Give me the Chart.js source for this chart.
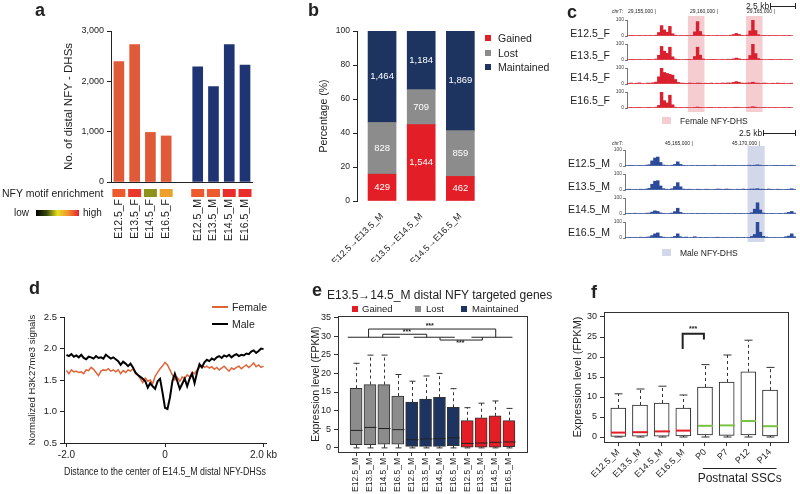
<!DOCTYPE html>
<html>
<head>
<meta charset="utf-8">
<script src="https://cdn.jsdelivr.net/npm/chart.js@4.4.1/dist/chart.umd.min.js"></script>
<style>
body { margin: 0; background: #fff; }
#fig { position: relative; width: 800px; height: 494px; overflow: hidden; font-family: "Liberation Sans", Arial, sans-serif; color: #222; }
#fig canvas { position: absolute; }
.t { position: absolute; white-space: nowrap; line-height: 1; transform: translateY(-50%); }
.r { transform: translate(-100%, -50%); }
.b { font-weight: bold; }
.sw { position: absolute; }
</style>
</head>
<body>
<div id="fig"></div>
<script>
// ---- panel a: distal NFY-DHS counts
var femaleStages = ['E12.5_F', 'E13.5_F', 'E14.5_F', 'E16.5_F'];
var maleStages = ['E12.5_M', 'E13.5_M', 'E14.5_M', 'E16.5_M'];
var femaleDhs = [2390, 2730, 985, 915];
var maleDhs = [2290, 1895, 2730, 2325];
var femaleMotif = [0.87, 0.95, 0.37, 0.7];
var maleMotif = [0.87, 0.87, 0.97, 0.97];

// ---- panel b: gained / lost / maintained DHS numbers
var transitions = ['E12.5\u2192E13.5_M', 'E13.5\u2192E14.5_M', 'E14.5\u2192E16.5_M'];
var gainedN = [429, 1544, 462];
var lostN = [828, 709, 859];
var maintainedN = [1464, 1184, 1869];

// ---- panel c: DNase tracks (binned signal, 0-100)
var trackF = {
  'E12.5_F': [3,2,4,3,2,3,4,3,2,3,5, 22,65,38,24,60,14,5, 3,4,3,2,3,4, 26,90,28,6, 3,4,3,3,2,3,4,3,3,5, 9,16,10,4, 3,6, 32,100,34,8, 3,4,3,2,3,4,3,3,4,3,2,3],
  'E13.5_F': [3,4,2,3,4,3,3,2,4,3,6, 30,85,55,42,80,20,6, 4,3,3,4,2,3, 22,80,30,7, 3,3,4,2,3,3,4,3,5,4, 7,12,8,4, 4,5, 28,100,40,9, 4,3,3,4,2,3,3,4,3,3,4,3],
  'E14.5_F': [4,6,3,5,7,4,3,6,5,8,12, 45,100,72,66,60,55,28, 10,6,5,4,6,5, 4,6,5,4, 5,4,6,3,5,4,6,5,7,6, 10,15,11,6, 5,6, 7,11,6,5, 4,6,5,3,5,4,6,4,5,3,4,5],
  'E16.5_F': [3,2,3,4,2,3,3,2,4,3,5, 16,100,46,32,80,20,5, 3,2,3,4,3,3, 4,6,4,3, 3,2,4,3,3,2,3,4,3,3, 4,5,4,3, 3,4, 5,8,5,3, 3,2,3,4,3,2,3,3,4,3,2,3]
};
var trackM = {
  'E12.5_M': [3,4,2,3,3,4,3,5,8, 32,50,56,22, 6,4,3,5, 10,26,10, 4,3,3,4,3,2,3,4,3,3,4,5,3,3,4,3,2,3,4,3,3,4,3,5,4, 5,7,5, 3,4,3,3,4,2,3,4,3, 4,5,3],
  'E13.5_M': [4,5,3,4,3,5,4,6,10, 36,55,58,25, 8,5,4,8, 22,46,20, 6,4,5,4,3,5,4,3,5,4,3,4,6,5,4,6,5,4,3,5,4,6,4,5,6, 6,8,5, 5,4,6,4,3,5,4,3,4, 5,8,4],
  'E14.5_M': [3,4,3,5,3,4,3,5,6, 12,20,16,7, 4,3,4,6, 15,36,10, 4,3,3,4,3,2,3,4,3,3,4,3,3,4,3,3,4,3,2,3,4,3,3,4,8, 30,70,25, 6,4,3,4,3,3,4,3,6, 10,16,6],
  'E16.5_M': [3,4,3,4,3,5,4,5,7, 15,26,32,9, 5,4,3,5, 10,26,8, 4,6,3,4,8,3,4,3,4,3,3,4,5,3,4,3,3,4,3,2,3,4,3,4,10, 22,100,36, 10,6,4,3,4,3,3,4,8, 12,26,8]
};
var femaleDhsBins = [[22, 27], [43, 48]];
var maleDhsBins = [[43, 48]];

// ---- panel d: H3K27me3 profile, -2..2 kb in 0.05 kb steps
var maleSignal = [1.90,1.88,1.91,1.87,1.89,1.86,1.90,1.85,1.83,1.87,1.86,1.84,1.88,1.85,1.86,1.84,1.90,1.87,1.84,1.86,
  1.83,1.80,1.74,1.79,1.76,1.72,1.76,1.70,1.62,1.58,1.55,1.52,1.48,1.38,1.45,1.40,1.36,1.48,1.52,1.30,
  1.06,1.04,1.22,1.48,1.60,1.48,1.36,1.44,1.52,1.40,1.52,1.60,1.45,1.62,1.75,1.70,1.78,1.82,1.80,1.84,
  1.82,1.86,1.88,1.85,1.89,1.87,1.90,1.86,1.89,1.91,1.88,1.90,1.89,1.92,1.91,1.95,1.97,1.93,1.96,2.00,1.99];
var femaleSignal = [1.65,1.60,1.66,1.63,1.64,1.62,1.63,1.60,1.66,1.65,1.70,1.67,1.62,1.57,1.64,1.66,1.65,1.68,1.64,1.66,
  1.63,1.66,1.60,1.65,1.62,1.66,1.64,1.68,1.60,1.58,1.52,1.46,1.53,1.48,1.50,1.44,1.56,1.62,1.68,1.72,
  1.78,1.74,1.66,1.58,1.50,1.54,1.48,1.55,1.52,1.58,1.55,1.62,1.60,1.66,1.70,1.73,1.70,1.72,1.69,1.71,
  1.67,1.70,1.66,1.69,1.72,1.68,1.64,1.69,1.67,1.70,1.72,1.68,1.71,1.74,1.70,1.73,1.77,1.71,1.74,1.70,1.72];

// ---- panel e: expression of NFY targeted genes (box stats)
var eStages = ['E12.5_M','E13.5_M','E14.5_M','E16.5_M','E12.5_M','E13.5_M','E14.5_M','E16.5_M','E12.5_M','E13.5_M','E14.5_M','E16.5_M'];
var eGroup = ['Lost','Lost','Lost','Lost','Maintained','Maintained','Maintained','Maintained','Gained','Gained','Gained','Gained'];
var eMin = [0,0,0,0, 0,0,0,0, 0,0,0,0];
var eQ1 = [0.9,0.9,1.0,1.0, 0.4,0.4,0.4,0.6, 0.2,0.2,0.2,0.3];
var eMedian = [4.7,5.5,5.2,4.9, 2.2,2.4,2.5,2.7, 1.2,1.3,1.5,1.6];
var eQ3 = [16.0,17.0,17.0,13.9, 12.3,13.1,13.6,10.9, 7.3,8.1,8.6,7.3];
var eMax = [22.7,24.9,24.9,19.7, 17.9,19.3,20.0,15.9, 10.8,12.0,12.6,10.6];

// ---- panel f: expression through postnatal stages
var fStages = ['E12.5_M','E13.5_M','E14.5_M','E16.5_M','P0','P7','P12','P14'];
var fMin = [0,0,0,0,0,0,0,0];
var fQ1 = [0.15,0.2,0.2,0.3,0.5,0.4,0.5,0.3];
var fMedian = [1.1,1.2,1.4,1.6,2.8,2.9,4.0,2.7];
var fQ3 = [7.25,8.0,8.5,7.25,12.5,13.75,16.3,11.7];
var fMax = [10.8,12.0,12.7,10.5,18.1,20.5,24.2,17.4];

var groupColor = { Gained: '#e31e26', Lost: '#8c8c8c', Maintained: '#1d3461' };
var FONT = '"Liberation Sans", Arial, sans-serif';

Chart.defaults.font.family = FONT;
Chart.defaults.color = '#222';
Chart.defaults.animation = false;
Chart.defaults.responsive = false;
Chart.defaults.plugins.legend.display = false;
Chart.defaults.plugins.tooltip.enabled = false;

var fig = document.getElementById('fig');

function canvasAt(left, top, w, h) {
  var c = document.createElement('canvas');
  c.width = w; c.height = h;
  c.style.left = left + 'px'; c.style.top = top + 'px';
  c.style.width = w + 'px'; c.style.height = h + 'px';
  fig.appendChild(c);
  return c.getContext('2d');
}
function text(s, x, y, size, cls, css) {
  var d = document.createElement('div');
  d.className = 't' + (cls ? ' ' + cls : '');
  d.textContent = s;
  d.style.left = x + 'px'; d.style.top = y + 'px'; d.style.fontSize = size + 'px';
  if (css) d.style.cssText += css;
  fig.appendChild(d);
}
function swatch(x, y, w, h, bg) {
  var d = document.createElement('div');
  d.className = 'sw';
  d.style.cssText = 'left:' + x + 'px;top:' + y + 'px;width:' + w + 'px;height:' + h + 'px;background:' + bg;
  fig.appendChild(d);
}
function fixW(w) { return function (s) { s.width = w; }; }
function fixH(h) { return function (s) { s.height = h; }; }
function indexTicks(n) { return function (s) { s.ticks = []; for (var i = 0; i < n; i++) s.ticks.push({ value: i }); }; }

function enrichColor(s) {
  var stops = [[0, [0, 0, 0]], [0.25, [58, 74, 16]], [0.5, [232, 224, 32]], [0.75, [240, 144, 48]], [1, [232, 32, 42]]];
  for (var k = 1; k < stops.length; k++) {
    if (s <= stops[k][0]) {
      var a = stops[k - 1], b = stops[k], t = (s - a[0]) / (b[0] - a[0]);
      return 'rgb(' + a[1].map(function (c, j) { return Math.round(c + (b[1][j] - c) * t); }).join(',') + ')';
    }
  }
  return 'rgb(232,32,42)';
}

// ================= a =================
var aLabels = femaleStages.concat([''], maleStages);
var aMotif = femaleMotif.concat([null], maleMotif);
var motifPlugin = {
  id: 'motif',
  afterDraw: function (chart) {
    var ctx = chart.ctx, x = chart.scales.x, b = chart.chartArea.bottom;
    aMotif.forEach(function (s, i) {
      if (s == null) return;
      ctx.fillStyle = enrichColor(s);
      ctx.fillRect(x.getPixelForValue(i) - 6.5, b + 7, 13, 8);
    });
  }
};
new Chart(canvasAt(0, 0, 275, 250), {
  type: 'bar',
  data: {
    labels: aLabels,
    datasets: [
      { data: femaleDhs.concat([null, null, null, null, null]), backgroundColor: '#e05a38' },
      { data: [null, null, null, null, null].concat(maleDhs), backgroundColor: '#1f3473' }
    ]
  },
  options: {
    layout: { padding: { top: 31, right: 7 } },
    datasets: { bar: { grouped: false, barThickness: 10 } },
    scales: {
      x: {
        grid: { drawOnChartArea: false, drawTicks: false },
        border: { color: '#222' },
        ticks: { minRotation: 90, maxRotation: 90, autoSkip: false, padding: 17, font: { size: 10.5 } },
        afterFit: fixH(68)
      },
      y: {
        min: 0, max: 3000,
        ticks: { stepSize: 1000, font: { size: 9 }, padding: 3, callback: function (v) { return v.toLocaleString('en-US'); } },
        grid: { drawOnChartArea: false, tickLength: 4, color: '#222' },
        border: { color: '#222' },
        title: { display: true, text: 'No. of distal NFY - DHSs', font: { size: 11.5 }, padding: { top: 62 } },
        afterFit: fixW(111)
      }
    }
  },
  plugins: [motifPlugin]
});
text('a', 35, 10, 18, 'b');
text('NFY motif enrichment', 2, 193, 10.5);
text('low', 14, 213, 10);
swatch(36, 210, 43, 6, 'linear-gradient(to right,#000,#3a4a10 25%,#e8e020 50%,#f09030 75%,#e8202a)');
text('high', 83, 213, 10);

// ================= b =================
var bTotals = gainedN.map(function (g, i) { return g + lostN[i] + maintainedN[i]; });
function pct(arr) { return arr.map(function (v, i) { return { x: i, y: 100 * v / bTotals[i] }; }); }
var countLabels = {
  id: 'counts',
  afterDatasetsDraw: function (chart) {
    var ctx = chart.ctx;
    ctx.save();
    ctx.fillStyle = '#fff';
    ctx.font = '9.5px ' + FONT;
    ctx.textAlign = 'center';
    ctx.textBaseline = 'middle';
    chart.data.datasets.forEach(function (ds, d) {
      chart.getDatasetMeta(d).data.forEach(function (el, i) {
        ctx.fillText(ds.counts[i].toLocaleString('en-US'), el.x, (el.y + el.base) / 2);
      });
    });
    ctx.restore();
  }
};
new Chart(canvasAt(290, 0, 200, 262), {
  type: 'bar',
  data: {
    datasets: [
      { label: 'Gained', data: pct(gainedN), counts: gainedN, backgroundColor: groupColor.Gained },
      { label: 'Lost', data: pct(lostN), counts: lostN, backgroundColor: groupColor.Lost },
      { label: 'Maintained', data: pct(maintainedN), counts: maintainedN, backgroundColor: groupColor.Maintained }
    ]
  },
  options: {
    layout: { padding: { top: 31, right: 14 } },
    datasets: { bar: { barThickness: 28 } },
    scales: {
      x: {
        type: 'linear', min: -0.64, max: 2.4, stacked: true, offset: false,
        grid: { display: false }, border: { display: false },
        afterBuildTicks: indexTicks(transitions.length),
        ticks: { minRotation: 45, maxRotation: 45, autoSkip: false, padding: 2, font: { size: 9 },
          callback: function (v) { return transitions[v]; } },
        afterFit: fixH(61)
      },
      y: {
        min: 0, max: 100, stacked: true,
        ticks: { stepSize: 20, font: { size: 8.5 }, padding: 3 },
        grid: { drawOnChartArea: false, tickLength: 4, color: '#222' },
        border: { color: '#222' },
        title: { display: true, text: 'Percentage (%)', font: { size: 10.5 }, padding: { top: 28 } },
        afterFit: fixW(67)
      }
    }
  },
  plugins: [countLabels]
});
text('b', 308, 10, 18, 'b');
[['Gained', gainedN], ['Lost', lostN], ['Maintained', maintainedN]].forEach(function (g, k) {
  swatch(485, 35 + k * 14.5, 6, 6, groupColor[g[0]]);
  text(g[0], 498, 38 + k * 14.5, 10.5);
});

// ================= c =================
function track(left, top, padTop, width, bins, color, dhsBins, dhsColor) {
  new Chart(canvasAt(left, top, width, 24), {
    type: 'bar',
    data: {
      labels: bins.map(function (v, i) { return i; }),
      datasets: [{ data: bins, backgroundColor: color, barPercentage: 1, categoryPercentage: 1 }]
    },
    options: {
      layout: { padding: { top: padTop, right: 2 } },
      scales: {
        x: { display: false },
        y: {
          min: 0, max: 100,
          afterBuildTicks: function (s) { s.ticks = [{ value: 0 }, { value: 100 }]; },
          ticks: { font: { size: 5 }, padding: 1, color: '#444' },
          grid: { drawOnChartArea: false, tickLength: 2, color: '#777' },
          border: { color: '#777' },
          afterFit: fixW(17)
        }
      }
    },
    plugins: [{
      id: 'dhs',
      beforeDatasetsDraw: function (chart) {
        var ctx = chart.ctx, x = chart.scales.x, w = x.width / bins.length;
        ctx.fillStyle = dhsColor;
        dhsBins.forEach(function (r) {
          var x0 = x.getPixelForValue(r[0]) - w / 2, x1 = x.getPixelForValue(r[1]) + w / 2;
          ctx.fillRect(x0, 0, x1 - x0, chart.height);
        });
      }
    }]
  });
}
var fLabelY = [33, 55, 77, 100];
Object.keys(trackF).forEach(function (k, i) {
  track(610, 16 + 24 * i, 3, 185, trackF[k], '#d9202e', femaleDhsBins, '#f5cdd0');
  text(k, 610, fLabelY[i], 10.5, 'r');
});
var mLabelY = [163, 186, 209, 232];
Object.keys(trackM).forEach(function (k, i) {
  track(608, 146 + 24 * i, 4, 190, trackM[k], '#2b4a9a', maleDhsBins, '#d2d8ea');
  text(k, 610, mLabelY[i], 10.5, 'r');
});
var scaleBarBg = 'linear-gradient(#222,#222) center/100% 1px no-repeat;border-left:1px solid #222;border-right:1px solid #222';
text('c', 567, 12, 18, 'b');
text('chr7:', 612, 11, 5);
text('29,155,000 |', 628, 11, 5);
text('29,160,000 |', 690, 11, 5);
text('29,165,000 |', 747, 11, 5);
text('2.5 kb', 746, 6, 8.5);
swatch(770, 3, 24, 6, scaleBarBg);
swatch(662, 117, 9, 7, '#f5cdd0');
text('Female NFY-DHS', 680, 121, 8.5);
text('2.5 kb', 739, 133, 8.5);
swatch(763, 130, 31, 6, scaleBarBg);
text('chr7:', 612, 143, 5);
text('45,165,000 |', 665, 143, 5);
text('45,170,000 |', 732, 143, 5);
swatch(662, 249, 9, 7, '#d2d8ea');
text('Male NFY-DHS', 680, 253, 8.5);

// ================= d =================
var distanceKb = maleSignal.map(function (v, i) { return -2 + i * 0.05; });
function xy(vals) { return vals.map(function (v, i) { return { x: distanceKb[i], y: v }; }); }
new Chart(canvasAt(0, 290, 300, 204), {
  type: 'line',
  data: {
    datasets: [
      { label: 'Male', data: xy(maleSignal), borderColor: '#000', borderWidth: 2, pointRadius: 0 },
      { label: 'Female', data: xy(femaleSignal), borderColor: '#e0643a', borderWidth: 1.5, pointRadius: 0 }
    ]
  },
  options: {
    layout: { padding: { top: 27, right: 34 } },
    scales: {
      x: {
        type: 'linear', min: -2.05, max: 2.05,
        afterBuildTicks: function (s) { s.ticks = [{ value: -2 }, { value: 0 }, { value: 2 }]; },
        ticks: { font: { size: 10 }, padding: 2, callback: function (v) { return v === 0 ? '0' : (v > 0 ? v.toFixed(1) + ' kb' : v.toFixed(1)); } },
        grid: { drawOnChartArea: false, tickLength: 4, color: '#222' },
        border: { color: '#222' },
        title: { display: true, text: 'Distance to the center of E14.5_M distal NFY-DHSs', font: { size: 10.5 }, padding: { bottom: 16 } },
        afterFit: fixH(51)
      },
      y: {
        min: 0.5, max: 2.5,
        ticks: { stepSize: 0.5, font: { size: 9.5 }, padding: 3, callback: function (v) { return v.toFixed(1); } },
        grid: { drawOnChartArea: false, tickLength: 4, color: '#222' },
        border: { color: '#222' },
        title: { display: true, text: 'Normalized H3K27me3 signals', font: { size: 9.5 }, padding: { top: 27 } },
        afterFit: fixW(64)
      }
    }
  }
});
text('d', 29, 288, 18, 'b');
swatch(212, 306, 16, 2, '#e0643a');
text('Female', 232, 307, 10.5);
swatch(212, 323, 16, 2, '#000');
text('Male', 232, 324, 10.5);

// ================= e / f box plots =================
function boxPlugin(st) {
  return {
    id: 'whiskers',
    afterDatasetsDraw: function (chart) {
      var ctx = chart.ctx, x = chart.scales.x, y = chart.scales.y, els = chart.getDatasetMeta(0).data;
      function seg(x0, y0, x1, y1) { ctx.beginPath(); ctx.moveTo(x0, y0); ctx.lineTo(x1, y1); ctx.stroke(); }
      ctx.save();
      st.q1.forEach(function (q1, i) {
        var cx = Math.round(x.getPixelForValue(i)) + 0.5, half = els[i].width / 2, cap = st.cap / 2;
        var yMax = y.getPixelForValue(st.max[i]), yMin = y.getPixelForValue(st.min[i]);
        ctx.strokeStyle = '#333'; ctx.lineWidth = 1;
        ctx.setLineDash([3, 3]);
        seg(cx, y.getPixelForValue(st.q3[i]), cx, yMax);
        ctx.setLineDash([]);
        seg(cx, y.getPixelForValue(q1), cx, yMin);
        seg(cx - cap, yMax, cx + cap, yMax);
        seg(cx - cap, yMin, cx + cap, yMin);
        ctx.strokeStyle = st.medianColor[i]; ctx.lineWidth = st.medianWidth;
        var ym = y.getPixelForValue(st.median[i]);
        seg(cx - half, ym, cx + half, ym);
      });
      ctx.restore();
    }
  };
}
var framePlugin = {
  id: 'frame',
  afterDraw: function (chart) {
    var a = chart.chartArea, ctx = chart.ctx;
    ctx.save(); ctx.strokeStyle = '#333'; ctx.lineWidth = 1;
    ctx.strokeRect(Math.round(a.left) + 0.5, Math.round(a.top) + 0.5, Math.round(a.width), Math.round(a.height));
    ctx.restore();
  }
};
function bracketPlugin(lines, stars, width) {
  return {
    id: 'brackets',
    afterDraw: function (chart) {
      var ctx = chart.ctx, x = chart.scales.x, y = chart.scales.y;
      ctx.save(); ctx.strokeStyle = '#222'; ctx.lineWidth = width;
      lines.forEach(function (p) {
        ctx.beginPath();
        p.forEach(function (pt, k) {
          var px = x.getPixelForValue(pt[0]), py = y.getPixelForValue(pt[1]);
          if (k === 0) ctx.moveTo(px, py); else ctx.lineTo(px, py);
        });
        ctx.stroke();
      });
      ctx.fillStyle = '#222'; ctx.font = 'bold 7px ' + FONT; ctx.textAlign = 'center'; ctx.textBaseline = 'middle';
      stars.forEach(function (s) { ctx.fillText('***', x.getPixelForValue(s[0]), y.getPixelForValue(s[1])); });
      ctx.restore();
    }
  };
}

// e
var eLines = [
  [[-0.6, 29.7], [3.15, 29.7]], [[4.15, 29.7], [7.1, 29.7]], [[8.3, 29.7], [11.25, 29.7]],
  [[0.9, 29.7], [0.9, 31.9], [10.05, 31.9], [10.05, 29.7]],
  [[1.92, 29.7], [1.92, 30.5], [5.08, 30.5], [5.08, 29.7]],
  [[6.04, 29.7], [6.04, 28.95], [9.09, 28.95], [9.09, 29.7]]
];
var eStars = [[5.3, 32.6], [3.65, 31.1], [7.5, 28.2]];
new Chart(canvasAt(290, 285, 250, 209), {
  type: 'bar',
  data: {
    datasets: [{
      data: eQ1.map(function (q, i) { return { x: i, y: [q, eQ3[i]] }; }),
      backgroundColor: eGroup.map(function (g) { return groupColor[g]; }),
      borderColor: '#333', borderWidth: 1, borderSkipped: false, barThickness: 12
    }]
  },
  options: {
    layout: { padding: { top: 31, right: 13 } },
    scales: {
      x: {
        type: 'linear', min: -1.3, max: 12.3, offset: false,
        afterBuildTicks: indexTicks(eStages.length),
        ticks: { minRotation: 90, maxRotation: 90, autoSkip: false, padding: 2, font: { size: 8.5 },
          callback: function (v) { return eStages[v]; } },
        grid: { drawOnChartArea: false, tickLength: 4, color: '#333', offset: false },
        border: { display: false },
        afterFit: fixH(42)
      },
      y: {
        min: -1.1, max: 35.4,
        afterBuildTicks: function (s) { s.ticks = [0, 5, 10, 15, 20, 25, 30, 35].map(function (v) { return { value: v }; }); },
        ticks: { font: { size: 9 }, padding: 3 },
        grid: { drawOnChartArea: false, tickLength: 4, color: '#333' },
        border: { display: false },
        title: { display: true, text: 'Expression level (FPKM)', font: { size: 10.5 }, padding: { top: 20 } },
        afterFit: fixW(48)
      }
    }
  },
  plugins: [
    boxPlugin({ min: eMin, q1: eQ1, median: eMedian, q3: eQ3, max: eMax, cap: 6, medianWidth: 1,
      medianColor: eGroup.map(function () { return '#222'; }) }),
    framePlugin,
    bracketPlugin(eLines, eStars, 1)
  ]
});
text('e', 312, 290, 18, 'b');
text('E13.5\u219214.5_M distal NFY targeted genes', 327, 295, 12);
[['Gained', 352, 362], ['Lost', 415, 426], ['Maintained', 461, 472]].forEach(function (g) {
  swatch(g[1], 306, 6, 6, groupColor[g[0]]);
  text(g[0], g[2], 309, 9.5);
});

// f
var fLines = [[[2.97, 22.0], [2.97, 25.8], [3.95, 25.8], [3.95, 24.4]]];
var fStars = [[3.45, 27.0]];
var postnatalPlugin = {
  id: 'postnatal',
  afterDraw: function (chart) {
    var ctx = chart.ctx, x = chart.scales.x, b = chart.chartArea.bottom;
    var x0 = x.getPixelForValue(3.9), x1 = x.getPixelForValue(7.3);
    ctx.save();
    ctx.strokeStyle = '#222'; ctx.lineWidth = 1;
    ctx.beginPath(); ctx.moveTo(x0, b + 26.5); ctx.lineTo(x1, b + 26.5); ctx.stroke();
    ctx.fillStyle = '#222'; ctx.font = '12px ' + FONT; ctx.textAlign = 'center'; ctx.textBaseline = 'middle';
    ctx.fillText('Postnatal SSCs', (x0 + x1) / 2, b + 37);
    ctx.restore();
  }
};
new Chart(canvasAt(555, 285, 245, 209), {
  type: 'bar',
  data: {
    datasets: [{
      data: fQ1.map(function (q, i) { return { x: i, y: [q, fQ3[i]] }; }),
      backgroundColor: '#fff', borderColor: '#222', borderWidth: 1, borderSkipped: false, barThickness: 15
    }]
  },
  options: {
    layout: { padding: { top: 27, right: 12 } },
    scales: {
      x: {
        type: 'linear', min: -0.66, max: 7.83, offset: false,
        afterBuildTicks: indexTicks(fStages.length),
        ticks: { minRotation: 45, maxRotation: 45, autoSkip: false, padding: 1, font: { size: 9 },
          callback: function (v) { return fStages[v]; } },
        grid: { drawOnChartArea: false, tickLength: 4, color: '#333', offset: false },
        border: { display: false },
        afterFit: fixH(52)
      },
      y: {
        min: -1.25, max: 31.25,
        afterBuildTicks: function (s) { s.ticks = [0, 5, 10, 15, 20, 25, 30].map(function (v) { return { value: v }; }); },
        ticks: { font: { size: 9 }, padding: 3 },
        grid: { drawOnChartArea: false, tickLength: 4, color: '#333' },
        border: { display: false },
        title: { display: true, text: 'Expression level (FPKM)', font: { size: 11 }, padding: { top: 16 } },
        afterFit: fixW(49)
      }
    }
  },
  plugins: [
    boxPlugin({ min: fMin, q1: fQ1, median: fMedian, q3: fQ3, max: fMax, cap: 8, medianWidth: 2,
      medianColor: fStages.map(function (s) { return s.charAt(0) === 'P' ? '#7cc242' : '#e31e26'; }) }),
    framePlugin,
    bracketPlugin(fLines, fStars, 2),
    postnatalPlugin
  ]
});
text('f', 591, 292, 18, 'b');
</script>
</body>
</html>
